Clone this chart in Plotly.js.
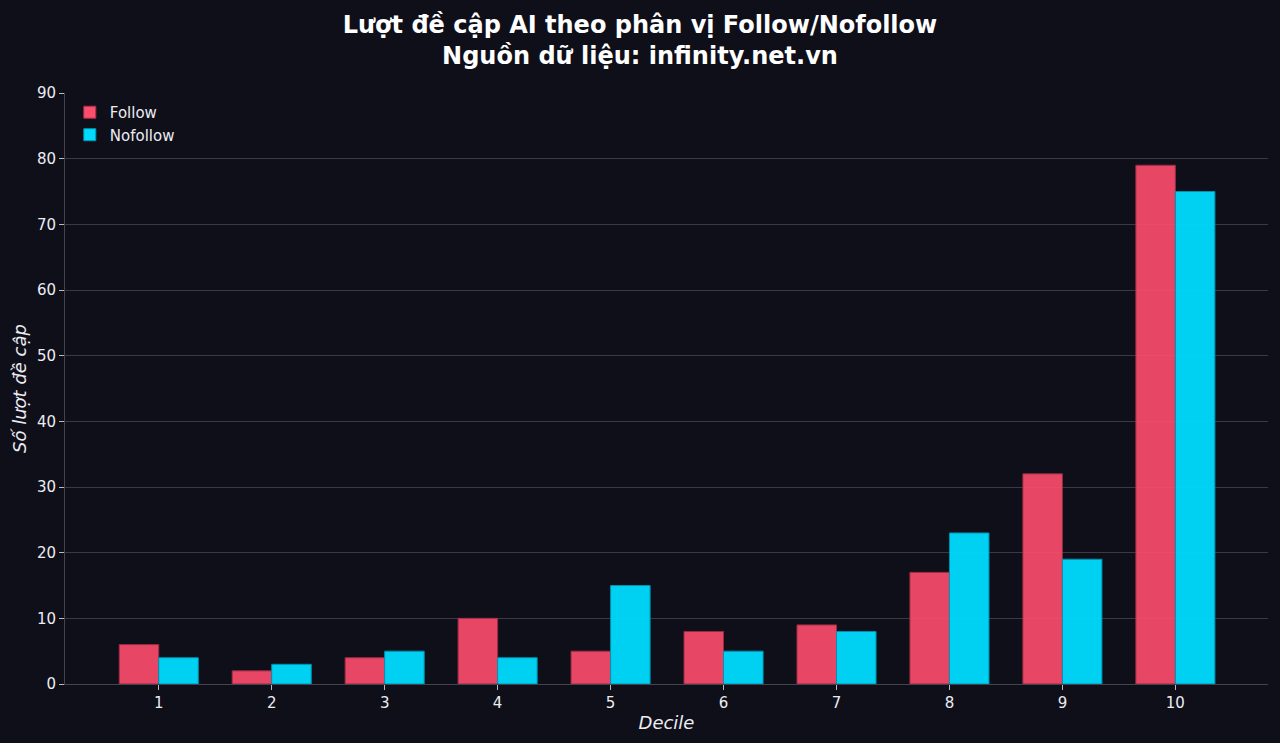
<!DOCTYPE html>
<html>
<head>
<meta charset="utf-8">
<script src="https://cdn.plot.ly/plotly-3.0.1.min.js"></script>
<style>
  html, body { margin: 0; padding: 0; background: #0f0f1a; }
  #chart { width: 1280px; height: 743px; }
</style>
</head>
<body>
<div id="chart"></div>
<script>
// Deciles and mention counts per link type
const deciles = [1, 2, 3, 4, 5, 6, 7, 8, 9, 10];
const followCounts = [6, 2, 4, 10, 5, 8, 9, 17, 32, 79];
const nofollowCounts = [4, 3, 5, 4, 15, 5, 8, 23, 19, 75];
const seriesNames = ['Follow', 'Nofollow'];
const tickLabels = ['1', '2', '3', '4', '5', '6', '7', '8', '9', '10'];

const FONT = 'DejaVu Sans, Noto Sans, sans-serif';
const TEXT = '#ececf2';
const GRID = 'rgba(255,255,255,0.18)';

const traces = [
  {
    type: 'bar', name: seriesNames[0], x: deciles, y: followCounts,
    marker: { color: '#ff4d6d', opacity: 0.9, line: { color: '#a8304a', width: 1 } },
    hoverinfo: 'x+y+name'
  },
  {
    type: 'bar', name: seriesNames[1], x: deciles, y: nofollowCounts,
    marker: { color: '#00dcff', opacity: 0.95, line: { color: '#0097b5', width: 1 } },
    hoverinfo: 'x+y+name'
  }
];

const layout = {
  width: 1280, height: 743,
  paper_bgcolor: '#0f0f1a', plot_bgcolor: '#0f0f1a',
  font: { family: FONT, color: TEXT, size: 15 },
  margin: { l: 65, r: 12, t: 93, b: 59, pad: 0 },
  barmode: 'group', bargap: 0.3, bargroupgap: 0,
  title: {
    text: '<b>Lượt đề cập AI theo phân vị Follow/Nofollow<br>Nguồn dữ liệu: infinity.net.vn</b>',
    font: { family: FONT, size: 24, color: '#ffffff' },
    x: 0.5, xanchor: 'center',
    yref: 'container', y: 0.956, yanchor: 'middle'
  },
  xaxis: {
    range: [0.17, 10.82],
    tickvals: deciles, ticktext: tickLabels,
    ticks: 'outside', ticklen: 5, tickcolor: '#bbbbbb', tickwidth: 1,
    showgrid: false, zeroline: false,
    showline: true, linecolor: '#444450', linewidth: 1,
    tickfont: { size: 15, color: TEXT },
    title: { text: '<i>Decile</i>', font: { size: 18, color: TEXT }, standoff: 5 }
  },
  yaxis: {
    range: [0, 90], dtick: 10,
    ticks: 'outside', ticklen: 5, tickcolor: '#bbbbbb', tickwidth: 1,
    showgrid: true, gridcolor: GRID, gridwidth: 1,
    zeroline: false,
    showline: true, linecolor: '#444450', linewidth: 1,
    tickfont: { size: 15, color: TEXT },
    title: { text: '<i>Số lượt đề cập</i>', font: { size: 18, color: TEXT }, standoff: 5 }
  },
  legend: {
    x: 0.004, y: 0.995, xanchor: 'left', yanchor: 'top',
    bgcolor: 'rgba(0,0,0,0)', borderwidth: 0,
    font: { size: 15, color: TEXT },
    tracegroupgap: 2, itemwidth: 30
  },
  showlegend: true
};

Plotly.newPlot('chart', traces, layout, { displayModeBar: false, staticPlot: true });
</script>
</body>
</html>
